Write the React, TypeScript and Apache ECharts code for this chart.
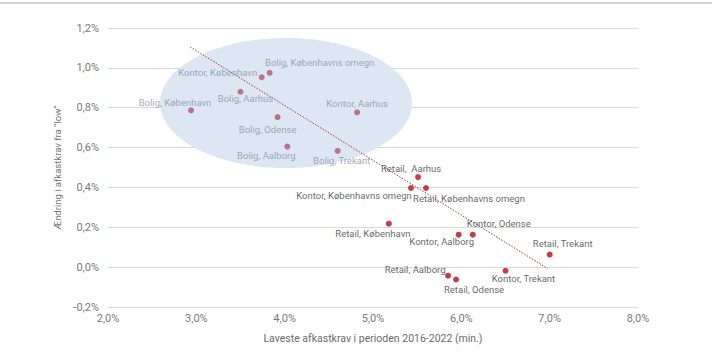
import React, { useEffect, useRef } from "react";
import * as echarts from "echarts";

// Data (x: laveste afkastkrav %, y: ændring i afkastkrav %)
const boligNames = [
  "Bolig, København",
  "Kontor, København",
  "Bolig, Københavns omegn",
  "Bolig, Aarhus",
  "Bolig, Odense",
  "Bolig, Aalborg",
  "Bolig, Trekant",
  "Kontor, Aarhus",
];
const boligX = [2.94, 3.74, 3.83, 3.5, 3.92, 4.03, 4.6, 4.82];
const boligY = [0.787, 0.953, 0.975, 0.88, 0.753, 0.605, 0.583, 0.777];

const retailNames = [
  "Retail,  Aarhus",
  "Kontor, Københavns omegn",
  "Retail, Københavns omegn",
  "Retail, København",
  "Kontor, Aalborg",
  "Kontor, Odense",
  "Retail, Trekant",
  "Kontor, Trekant",
  "Retail, Aalborg",
  "Retail, Odense",
];
const retailX = [5.51, 5.43, 5.6, 5.18, 5.97, 6.13, 7.0, 6.5, 5.85, 5.94];
const retailY = [0.452, 0.397, 0.397, 0.218, 0.163, 0.163, 0.063, -0.018, -0.043, -0.062];

// Trend line endpoints
const trendX = [2.93, 6.975];
const trendY = [1.105, -0.0065];

const xTicks = { min: 2, max: 8, interval: 1 };
const yTicks = { min: -0.2, max: 1.2, interval: 0.2 };

const xAxisName = "Laveste afkastkrav i perioden 2016-2022 (min.)";
const yAxisName = "Ændring i afkastkrav fra ”low”";

// Layout: label offsets (center of label relative to dot), px
const boligLabelOffsets: number[][] = [
  [-16, -8],
  [-44, -5],
  [50, -10],
  [5, 7],
  [-10, 12],
  [-21, 9],
  [4, 10],
  [0, -9],
];
const retailLabelOffsets: number[][] = [
  [-7, -9],
  [-57, 7],
  [43, 10],
  [-16, 10],
  [-17, 7],
  [26, -11],
  [13, -11],
  [18, 8],
  [-33, -6],
  [18, 10],
];

const FONT = "Roboto";

const fmt = (v: number) => v.toFixed(1).replace(".", ",").replace("-0,0", "0,0") + "%";

export default function App() {
  const ref = useRef<HTMLDivElement>(null);
  useEffect(() => {
    if (!ref.current) return;
    const chart = echarts.init(ref.current, undefined, { renderer: "svg" });
    const mk = (names: string[], xs: number[], ys: number[], offs: number[][], color: string) =>
      names.map((n, i) => ({
        name: n,
        value: [xs[i], ys[i]],
        label: {
          show: true,
          position: "inside",
          offset: offs[i],
          formatter: n,
          color,
          fontSize: 9.5,
          fontFamily: FONT,
        },
      }));
    chart.setOption({
      animation: false,
      backgroundColor: "#ffffff",
      textStyle: { fontFamily: FONT },
      grid: { left: 108, right: 74, top: 28, bottom: 53 },
      graphic: [
        {
          type: "line",
          shape: { x1: 0, y1: 3, x2: 712, y2: 3 },
          style: { stroke: "#c6c6c6", lineWidth: 1.5 },
          z: 1,
        },
        {
          type: "ellipse",
          shape: { cx: 286, cy: 103, rx: 126, ry: 65 },
          style: { fill: "#dce7f3" },
          z: 1,
        },
      ],
      xAxis: {
        type: "value",
        min: xTicks.min,
        max: xTicks.max,
        interval: xTicks.interval,
        name: xAxisName,
        nameLocation: "middle",
        nameGap: 26,
        nameTextStyle: { color: "#6a6a6a", fontSize: 10.5, fontFamily: FONT },
        axisLine: { show: false },
        axisTick: { show: false },
        splitLine: { show: false },
        axisLabel: { formatter: fmt, color: "#7a7a7a", fontSize: 11, margin: 6, fontFamily: FONT },
      },
      yAxis: {
        type: "value",
        min: yTicks.min,
        max: yTicks.max,
        interval: yTicks.interval,
        name: yAxisName,
        nameLocation: "middle",
        nameGap: 43,
        nameTextStyle: { color: "#757575", fontSize: 9.5, fontFamily: FONT },
        axisLine: { show: false },
        axisTick: { show: false },
        splitLine: { show: true, lineStyle: { color: "#d9d9d9", width: 1 } },
        axisLabel: { formatter: fmt, color: "#7a7a7a", fontSize: 11, margin: 9, fontFamily: FONT },
      },
      series: [
        {
          type: "line",
          data: trendX.map((x, i) => [x, trendY[i]]),
          symbol: "none",
          lineStyle: { color: "#a8303c", width: 1, type: [1.5, 1.5] },
          z: 3,
          silent: true,
        },
        {
          type: "scatter",
          symbolSize: 6,
          itemStyle: { color: "#b2586e" },
          data: mk(boligNames, boligX, boligY, boligLabelOffsets, "#8a94a4"),
          z: 4,
        },
        {
          type: "scatter",
          symbolSize: 6,
          itemStyle: { color: "#b80c1a" },
          data: mk(retailNames, retailX, retailY, retailLabelOffsets, "#3c3c3c"),
          z: 4,
        },
      ],
    });
    return () => chart.dispose();
  }, []);
  return (
    <div
      ref={ref}
      style={{ position: "fixed", left: 0, top: 0, width: 712, height: 360 }}
    />
  );
}
